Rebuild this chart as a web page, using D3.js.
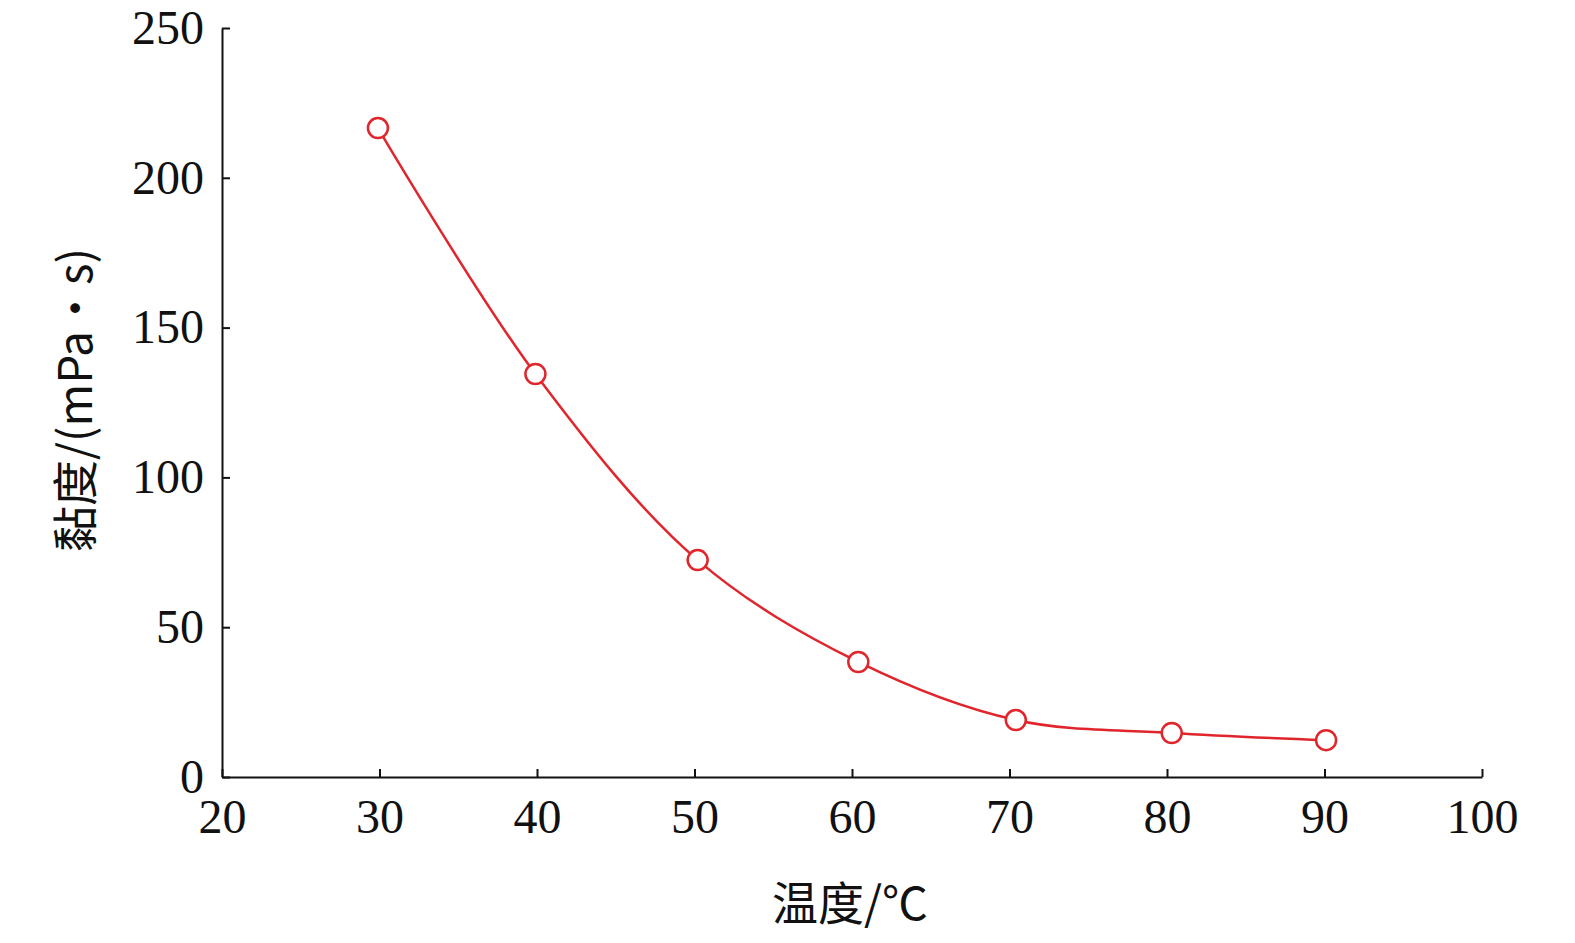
<!DOCTYPE html>
<html><head><meta charset="utf-8">
<script src="https://cdn.jsdelivr.net/npm/d3@7"></script>
<style>body{margin:0;background:#fff}</style></head>
<body><svg id="c" width="1575" height="943"></svg>
<script>
const temps=[29.9,39.9,50.2,60.4,70.4,80.3,90.1];
const visc=[216.6,134.5,72.4,38.4,19.0,14.7,12.3];
const xTicks=[20,30,40,50,60,70,80,90,100];
const yTicks=[0,50,100,150,200,250];
const svg=d3.select("#c");
const x=d3.scaleLinear().domain([20,100]).range([222,1482]);
const y=d3.scaleLinear().domain([0,250]).range([777,28]);
const font="'Liberation Serif','Times New Roman',serif";
const gx=svg.append("g").attr("transform","translate(0,777)")
 .call(d3.axisBottom(x).tickValues(xTicks).tickSize(-8).tickPadding(22).tickSizeOuter(0));
const gy=svg.append("g").attr("transform","translate(222,0)")
 .call(d3.axisLeft(y).tickValues(yTicks).tickSize(-8).tickPadding(18).tickSizeOuter(0));
[gx,gy].forEach(g=>{g.selectAll("text").attr("font-family",font).attr("font-size",48).attr("fill","#111");
 g.selectAll("line,path").attr("stroke","#111").attr("stroke-width",2);});
gx.selectAll("text").attr("dy","0.71em");
const data=temps.map((t,i)=>[t,visc[i]]);
svg.append("path").datum(data).attr("fill","none").attr("stroke","#e0262c").attr("stroke-width",2.5)
 .attr("d",d3.line().x(d=>x(d[0])).y(d=>y(d[1])).curve(d3.curveCatmullRom.alpha(0.5)));
svg.selectAll("circle").data(data).join("circle").attr("cx",d=>x(d[0])).attr("cy",d=>y(d[1]))
 .attr("r",10).attr("fill","#fff").attr("stroke","#e0262c").attr("stroke-width",2.5);
svg.append("text").attr("x",850).attr("y",920).attr("text-anchor","middle")
 .attr("font-family","'Noto Sans CJK SC',"+font).attr("font-size",46).attr("fill","#111").text("温度/℃");
svg.append("text").attr("transform","translate(92,400) rotate(-90)").attr("text-anchor","middle")
 .attr("font-family","'Noto Sans CJK SC',"+font).attr("font-size",46).attr("fill","#111").text("黏度/(mPa·s)");
</script></body></html>
